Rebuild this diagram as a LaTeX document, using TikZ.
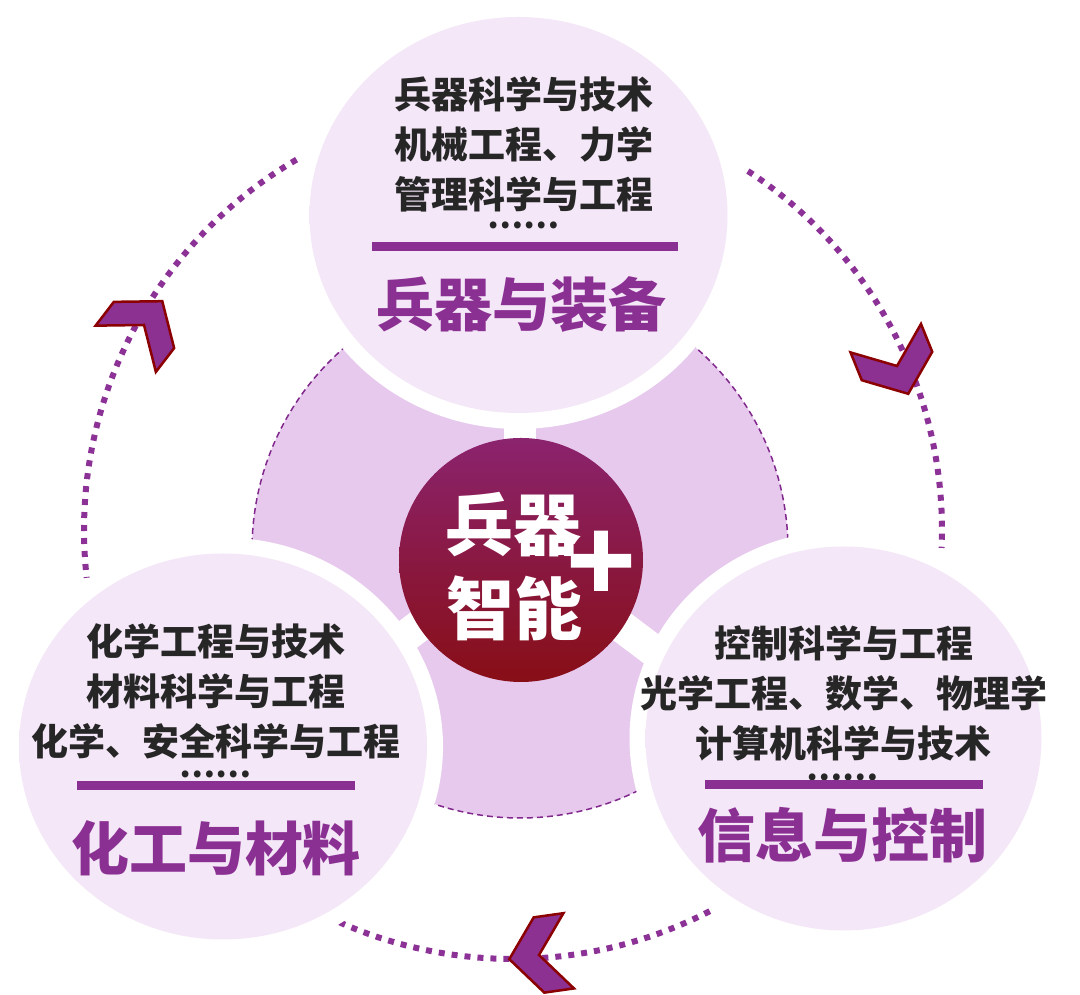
\documentclass[tikz,border=0pt]{standalone}
\usepackage{fontspec}
\newfontfamily\cjk{Noto Sans CJK SC}
\definecolor{purp}{RGB}{139,48,147}
\definecolor{dotpurp}{RGB}{140,50,150}
\definecolor{chevfill}{RGB}{140,48,146}
\definecolor{chevline}{RGB}{139,0,0}
\definecolor{lobe}{RGB}{232,201,238}
\definecolor{dashpurp}{RGB}{128,40,140}
\definecolor{circfill}{RGB}{244,231,247}
\definecolor{circrim}{RGB}{214,196,218}
\definecolor{txt}{RGB}{38,38,38}
\definecolor{ctop}{RGB}{139,35,110}
\definecolor{cbot}{RGB}{136,14,22}
\pgfdeclareradialshading{rimshade}{\pgfpoint{0bp}{0bp}}{color(0bp)=(circfill); color(42bp)=(circfill); color(50bp)=(circrim)}
% heavier ink for the plus sign
\newcommand\thickink[2]{\special{pdf:literal direct 0 j #1 w 2 Tr}#2\special{pdf:literal direct 0 Tr}}
\tikzset{
  bodytext/.style={font=\cjk\bfseries\fontsize{37}{50}\selectfont, text=txt, align=center, inner sep=0pt},
  titletext/.style={font=\cjk\bfseries\fontsize{58}{60}\selectfont, text=purp, inner sep=0pt},
  dotstext/.style={font=\cjk\bfseries\fontsize{32}{34}\selectfont, text=txt, inner sep=0pt},
  hubtext/.style={font=\cjk\bfseries\fontsize{68}{70}\selectfont, text=white, inner sep=0pt},
  ring/.style={draw=white, line width=32pt},
  barline/.style={draw=purp, line width=9pt},
  dotarc/.style={draw=dotpurp, line width=6pt, dash pattern=on 6pt off 7pt},
  chevron/.style={fill=chevfill, draw=chevline, line width=2.5pt, line join=miter}
}
\begin{document}
\begin{tikzpicture}[x=1pt,y=1pt]
\useasboundingbox (0,0) rectangle (1080,995);

% lobes behind the hub
\fill[lobe] (520,445) circle (268);
\draw[dashpurp, line width=1.5pt, dash pattern=on 6pt off 4pt] (520,445) circle (268);
\foreach \a in {90,217,323}
  \draw[white, line width=32pt] (520,445) -- ++(\a:300);

% dotted ring with chevrons
\draw[dotarc] (513,465) ++(120.3:429) arc[start angle=120.3, end angle=186.4, radius=429];
\draw[dotarc] (513,465) ++(56.8:429) arc[start angle=56.8, end angle=-2.4, radius=429];
\draw[dotarc] (513,465) ++(-62.7:429) arc[start angle=-62.7, end angle=-114.2, radius=429];
\foreach \px/\py/\rot in {144/670/52.5, 897/629/-68, 539/40/188}
  \draw[chevron, shift={(\px,\py)}, rotate=\rot] (30,0) -- (0,38) -- (-30,38) -- (0,0) -- (-30,-38) -- (0,-38) -- cycle;

% three circles
\draw[ring] (518.5,780) ellipse [x radius=209, y radius=198];
\shade[shading=rimshade] (518.5,780) ellipse [x radius=209, y radius=198];
\draw[ring] (223,248.5) ellipse [x radius=204, y radius=193];
\shade[shading=rimshade] (223,248.5) ellipse [x radius=204, y radius=193];
\draw[ring] (843.5,256.5) ellipse [x radius=198, y radius=192];
\shade[shading=rimshade] (843.5,256.5) ellipse [x radius=198, y radius=192];

% hub
\shade[top color=ctop, bottom color=cbot] (521,435) circle (122);
\node[hubtext] (hubA) at (513,470) {兵器};
\node[hubtext] (hubB) at (514,387) {智能};
\node[hubtext, font=\cjk\bfseries\fontsize{80}{80}\selectfont] (hubplus) at (601,433) {\thickink{4}{＋}};

% top circle
\node[bodytext] (topbody) at (524,851) {兵器科学与技术\\机械工程、力学\\管理科学与工程};
\node[dotstext] (topdots) at (523,770) {……};
\draw[barline] (372,748) -- (678,748);
\node[titletext] (toptitle) at (521,690) {兵器与装备};

% lower left circle
\node[bodytext] (leftbody) at (216,304) {化学工程与技术\\材料科学与工程\\化学、安全科学与工程};
\node[dotstext] (leftdots) at (215,221) {……};
\draw[barline] (77,209) -- (355,209);
\node[titletext] (lefttitle) at (216,147) {化工与材料};

% lower right circle
\node[bodytext] (rightbody) at (843.5,302) {控制科学与工程\\光学工程、数学、物理学\\计算机科学与技术};
\node[dotstext] (rightdots) at (842,218) {……};
\draw[barline] (705,210) -- (983,210);
\node[titletext] (righttitle) at (842,160) {信息与控制};
\end{tikzpicture}
\end{document}
